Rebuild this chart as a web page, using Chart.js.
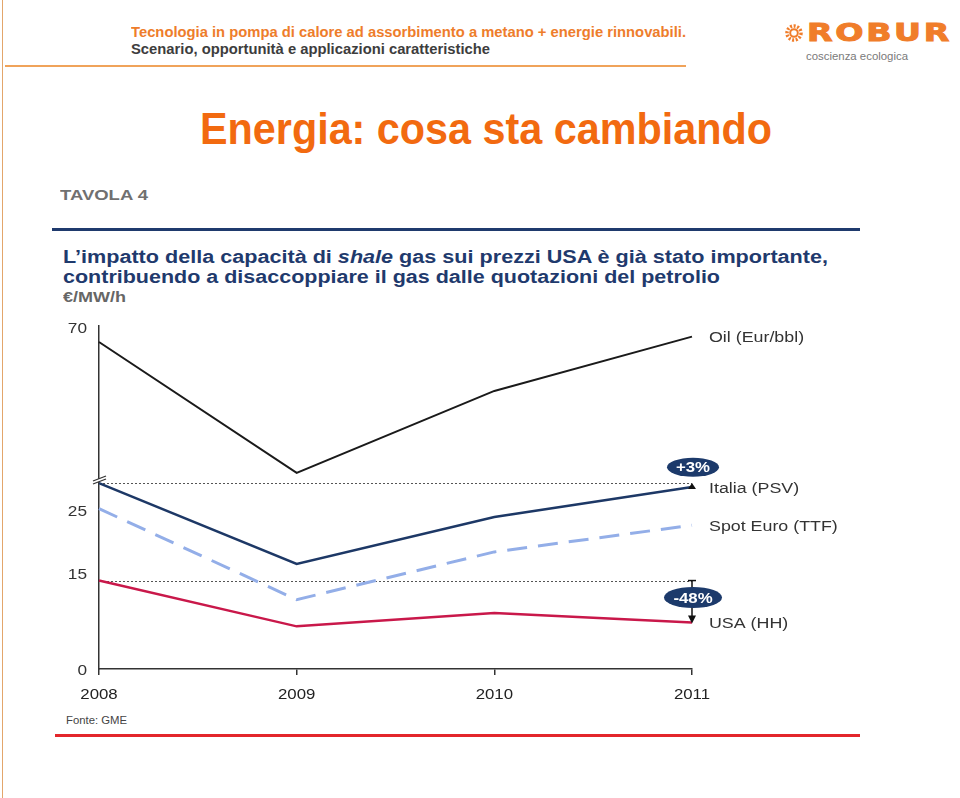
<!DOCTYPE html>
<html><head><meta charset="utf-8">
<script src="https://cdn.jsdelivr.net/npm/chart.js@4.4.1/dist/chart.umd.min.js"></script>
<style>
html,body{margin:0;padding:0;background:#fff;}
body{width:960px;height:798px;position:relative;overflow:hidden;font-family:"Liberation Sans",Arial,sans-serif;}
.t{position:absolute;white-space:nowrap;line-height:1;transform-origin:0 0;}
.r{position:absolute;}
#cv{position:absolute;left:0;top:0;}
</style></head><body>
<div class="r" style="left:2px;top:0;width:1px;height:798px;background:#e3a66b"></div>
<div class="t" data-w="555" style="left:131px;top:25px;font-size:14.5px;font-weight:bold;color:#ee7d2b">Tecnologia in pompa di calore ad assorbimento a metano + energie rinnovabili.</div>
<div class="t" data-w="359" style="left:131px;top:42px;font-size:14.5px;font-weight:bold;color:#3d3d3d">Scenario, opportunità e applicazioni caratteristiche</div>
<div class="r" style="left:5px;top:65px;width:681px;height:2px;background:#f0a35a"></div>
<svg class="r" style="left:785px;top:24px" width="18" height="18"><circle cx="9" cy="9" r="7" fill="none" stroke="#f07d2a" stroke-width="3.5" stroke-dasharray="2 1.6"/><circle cx="9" cy="9" r="3.8" fill="none" stroke="#f07d2a" stroke-width="2"/></svg>
<div class="t" data-w="145" style="left:807px;top:20px;font-size:25px;font-weight:bold;font-family:'DejaVu Sans',sans-serif;color:#f07d2a;letter-spacing:2px;-webkit-text-stroke:1px #f07d2a">ROBUR</div>
<div class="t" data-w="102" style="left:806px;top:51px;font-size:11px;color:#7a7a7a">coscienza ecologica</div>
<div class="t" data-w="572" style="left:200px;top:107px;font-size:44px;font-weight:bold;color:#f26a10">Energia: cosa sta cambiando</div>
<div class="t" data-w="88" style="left:60px;top:187px;font-size:15px;font-weight:bold;color:#707070">TAVOLA 4</div>
<div class="r" style="left:52px;top:228px;width:808px;height:3px;background:#1f3a6d"></div>
<div class="t" data-w="765" style="left:63px;top:248px;font-size:18px;font-weight:bold;color:#1f3a6d">L’impatto della capacità di <i>shale</i> gas sui prezzi USA è già stato importante,</div>
<div class="t" data-w="657" style="left:63px;top:268px;font-size:18px;font-weight:bold;color:#1f3a6d">contribuendo a disaccoppiare il gas dalle quotazioni del petrolio</div>
<div class="t" data-w="63" style="left:63px;top:290px;font-size:14px;font-weight:bold;color:#666">€/MW/h</div>
<div class="t" data-w="61" style="left:66px;top:716px;font-size:10px;color:#444">Fonte: GME</div>
<div class="r" style="left:55px;top:734px;width:805px;height:3px;background:#e3262b"></div>
<canvas id="cv" width="960" height="798"></canvas>
<script>
document.querySelectorAll('[data-w]').forEach(function(el){
  var w = el.getBoundingClientRect().width;
  el.style.transform = 'scaleX(' + (+el.dataset.w / w) + ')';
});

const categories = ['2008', '2009', '2010', '2011'];
const oil = [67.4, 43.3, 58.4, 68.4];
const italia = [29.2, 16.5, 23.9, 28.6];
const spot = [25.2, 10.9, 18.4, 22.6];
const usa = [13.9, 6.7, 8.8, 7.3];
const lowTicks = [0, 15, 25];
const highTicks = [70];
const seriesNames = ['Oil (Eur/bbl)', 'Italia (PSV)', 'Spot Euro (TTF)', 'USA (HH)'];
const badgeUp = '+3%';
const badgeDown = '-48%';

const FAM = '"Liberation Sans", Arial, sans-serif';
const NAVY = '#1d3866';

function wideText(ctx, text, x, y, align, font, color, sx) {
  ctx.save();
  ctx.translate(x, y);
  ctx.scale(sx, 1);
  ctx.font = font;
  ctx.fillStyle = color;
  ctx.textAlign = align;
  ctx.textBaseline = 'middle';
  ctx.fillText(text, 0, 0);
  ctx.restore();
}

function ellipseBadge(ctx, cx, cy, rx, ry, text) {
  ctx.save();
  ctx.fillStyle = '#1c3a6b';
  ctx.beginPath();
  ctx.ellipse(cx, cy, rx, ry, 0, 0, Math.PI * 2);
  ctx.fill();
  ctx.restore();
  wideText(ctx, text, cx, cy + 1, 'center', 'bold 15px ' + FAM, '#fff', 1.12);
}

const deco = {
  id: 'deco',
  beforeDatasetsDraw(chart) {
    const ctx = chart.ctx, a = chart.chartArea, yl = chart.scales.yLow;
    ctx.save();
    ctx.strokeStyle = '#555';
    ctx.lineWidth = 1;
    ctx.setLineDash([2, 2]);
    [italia[0], usa[0]].forEach(v => {
      const y = Math.round(yl.getPixelForValue(v)) + 0.5;
      ctx.beginPath(); ctx.moveTo(a.left, y); ctx.lineTo(a.right, y); ctx.stroke();
    });
    ctx.restore();
  },
  afterDraw(chart) {
    const ctx = chart.ctx;
    const xs = chart.scales.x, yl = chart.scales.yLow, yh = chart.scales.yHigh;
    const xr = xs.getPixelForValue(3);
    const x0 = xs.getPixelForValue(0);
    // tick labels
    const tickFont = '15px ' + FAM;
    categories.forEach((c, i) => wideText(ctx, c, xs.getPixelForValue(i), xs.top + 25.5, 'center', tickFont, '#222', 1.12));
    lowTicks.forEach(v => wideText(ctx, String(v), x0 - 12, yl.getPixelForValue(v) + 1.5, 'right', tickFont, '#333', 1.15));
    highTicks.forEach(v => wideText(ctx, String(v), x0 - 12, yh.getPixelForValue(v) + 1, 'right', tickFont, '#333', 1.15));
    // axis break
    const yb = yl.top;
    ctx.save();
    ctx.fillStyle = '#fff';
    ctx.beginPath();
    ctx.moveTo(x0 - 6, yb + 1); ctx.lineTo(x0 + 7, yb - 4); ctx.lineTo(x0 + 7, yb - 1); ctx.lineTo(x0 - 6, yb + 4);
    ctx.closePath(); ctx.fill();
    ctx.strokeStyle = '#333'; ctx.lineWidth = 1.3;
    ctx.beginPath(); ctx.moveTo(x0 - 6, yb + 1); ctx.lineTo(x0 + 7, yb - 4); ctx.stroke();
    ctx.beginPath(); ctx.moveTo(x0 - 6, yb + 4); ctx.lineTo(x0 + 7, yb - 1); ctx.stroke();
    ctx.restore();
    // series labels
    const ends = [yh.getPixelForValue(oil[3]), yl.getPixelForValue(italia[3]), yl.getPixelForValue(spot[3]), yl.getPixelForValue(usa[3])];
    seriesNames.forEach((n, i) => wideText(ctx, n, xr + 17, ends[i] + 1.5, 'left', '15.5px ' + FAM, '#333', 1.15));
    // up triangle on Italia
    ctx.save();
    const yi = yl.getPixelForValue(italia[3]);
    ctx.fillStyle = '#111';
    ctx.beginPath(); ctx.moveTo(xr, yi - 4); ctx.lineTo(xr - 4, yi + 2); ctx.lineTo(xr + 4, yi + 2); ctx.closePath(); ctx.fill();
    // down arrow on USA
    const yu0 = yl.getPixelForValue(usa[0]), yu1 = yl.getPixelForValue(usa[3]);
    ctx.strokeStyle = '#111'; ctx.lineWidth = 1.5;
    ctx.beginPath(); ctx.moveTo(xr - 4, yu0); ctx.lineTo(xr + 4, yu0); ctx.stroke();
    ctx.beginPath(); ctx.moveTo(xr, yu0); ctx.lineTo(xr, yu1 - 5); ctx.stroke();
    ctx.beginPath(); ctx.moveTo(xr, yu1 + 1); ctx.lineTo(xr - 4, yu1 - 7); ctx.lineTo(xr + 4, yu1 - 7); ctx.closePath(); ctx.fill();
    ctx.restore();
    // badges
    ellipseBadge(ctx, xr + 1, yl.getPixelForValue(italia[0]) - 16, 26, 9.5, badgeUp);
    ellipseBadge(ctx, xr + 1, (yu0 + yu1) / 2 - 4, 29, 10.5, badgeDown);
  }
};

const axisBorder = { display: true, color: '#333', width: 1.5 };

new Chart(document.getElementById('cv'), {
  type: 'line',
  data: {
    labels: categories,
    datasets: [
      { label: seriesNames[0], data: oil, yAxisID: 'yHigh', borderColor: '#1a1a1a', borderWidth: 2 },
      { label: seriesNames[1], data: italia, yAxisID: 'yLow', borderColor: NAVY, borderWidth: 2.5 },
      { label: seriesNames[2], data: spot, yAxisID: 'yLow', borderColor: '#93aee8', borderWidth: 3, borderDash: [20, 11] },
      { label: seriesNames[3], data: usa, yAxisID: 'yLow', borderColor: '#c9184a', borderWidth: 2.5 }
    ]
  },
  options: {
    responsive: false,
    animation: false,
    layout: { padding: { left: 69, right: 268, top: 326, bottom: 99 } },
    elements: { point: { radius: 0, hoverRadius: 0 }, line: { tension: 0 } },
    datasets: { line: { clip: false } },
    plugins: { legend: { display: false }, tooltip: { enabled: false } },
    scales: {
      x: {
        type: 'category', offset: false,
        grid: { display: true, drawOnChartArea: false, drawTicks: true, tickLength: 6, color: '#333', lineWidth: 1.5 },
        border: axisBorder,
        ticks: { display: false, autoSkip: false },
        afterFit(s) { s.height = 30; }
      },
      yLow: {
        type: 'linear', position: 'left', stack: 'v', stackWeight: 189,
        min: 0, max: 29.7,
        afterBuildTicks(s) { s.ticks = lowTicks.map(v => ({ value: v })); },
        grid: { display: false, drawTicks: false },
        border: axisBorder,
        ticks: { display: false },
        afterFit(s) { s.width = 30; }
      },
      yHigh: {
        type: 'linear', position: 'left', stack: 'v', stackWeight: 154,
        min: 42, max: 70.35,
        afterBuildTicks(s) { s.ticks = highTicks.map(v => ({ value: v })); },
        grid: { display: false, drawTicks: false },
        border: axisBorder,
        ticks: { display: false },
        afterFit(s) { s.width = 30; }
      }
    }
  },
  plugins: [deco]
});
</script>
</body></html>
